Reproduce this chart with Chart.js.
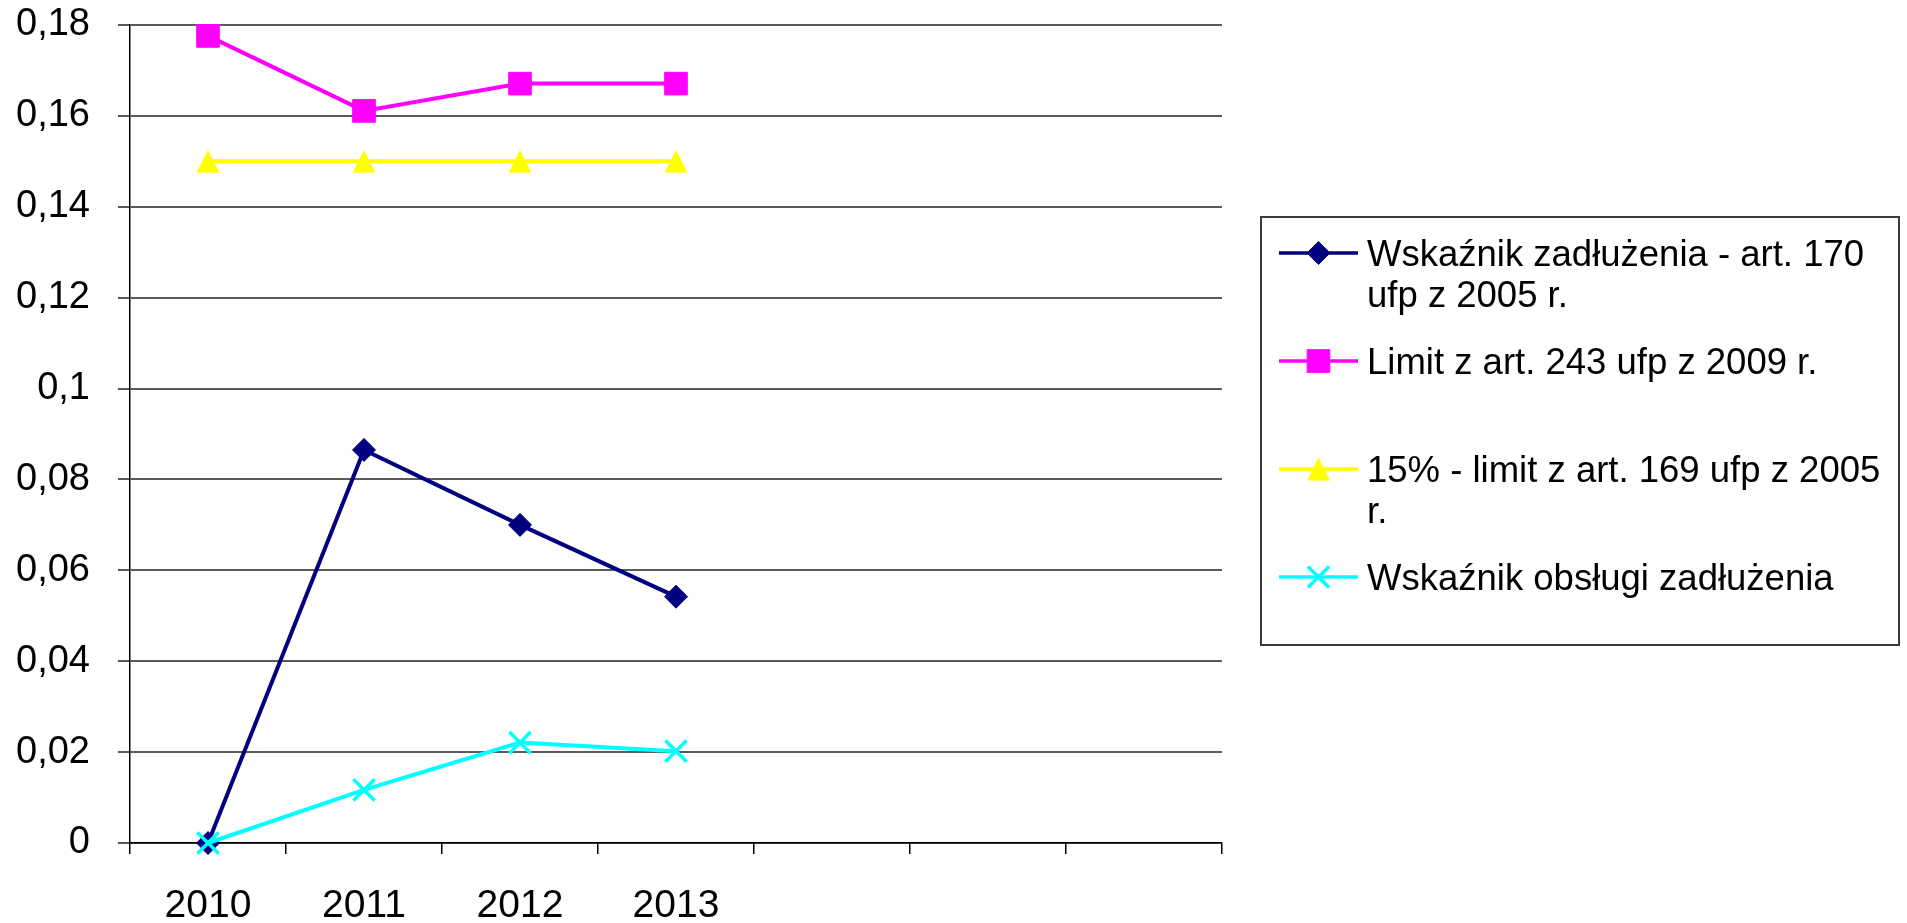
<!DOCTYPE html>
<html><head><meta charset="utf-8">
<script src="https://cdn.jsdelivr.net/npm/chart.js@4.4.0/dist/chart.umd.min.js"></script>
<style>html,body{margin:0;padding:0;background:#fff;overflow:hidden}canvas{display:block}</style>
</head><body>
<canvas id="c" width="1907" height="923"></canvas>
<script>
// ---- data ----
const categories = ['2010', '2011', '2012', '2013', '', '', ''];
const seriesNames = [
  'Wskaźnik zadłużenia - art. 170 ufp z 2005 r.',
  'Limit z art. 243 ufp z 2009 r.',
  '15% - limit z art. 169 ufp z 2005 r.',
  'Wskaźnik obsługi zadłużenia'
];
const debtRatio        = [0, 0.0865, 0.0700, 0.0542];
const limit243         = [0.1776, 0.1611, 0.1671, 0.1671];
const limit169         = [0.15, 0.15, 0.15, 0.15];
const debtServiceRatio = [0, 0.0117, 0.0221, 0.0202];
const yMin = 0, yMax = 0.18, yStep = 0.02;

const FONT = '"Liberation Sans", Arial, Helvetica, sans-serif';

// triangle marker (Excel style: isoceles, centred on the value)
const tri = document.createElement('canvas');
tri.width = 24; tri.height = 24;
(function () {
  const c = tri.getContext('2d');
  c.fillStyle = '#FFFF00';
  c.beginPath(); c.moveTo(12, 0.5); c.lineTo(23.5, 23.5); c.lineTo(0.5, 23.5); c.closePath(); c.fill();
})();

function fallbackPoint(ctx, style, r, x, y) {
  if (style instanceof HTMLCanvasElement) { ctx.drawImage(style, x - style.width / 2, y - style.height / 2); return; }
  ctx.beginPath();
  if (style === 'rectRot') { ctx.moveTo(x, y - r); ctx.lineTo(x + r, y); ctx.lineTo(x, y + r); ctx.lineTo(x - r, y); ctx.closePath(); ctx.fill(); ctx.stroke(); }
  else if (style === 'rect') { const s = r * Math.SQRT1_2; ctx.rect(x - s, y - s, 2 * s, 2 * s); ctx.fill(); ctx.stroke(); }
  else { const s = r * Math.SQRT1_2; ctx.moveTo(x - s, y - s); ctx.lineTo(x + s, y + s); ctx.moveTo(x + s, y - s); ctx.lineTo(x - s, y + s); ctx.stroke(); }
}

const legendPlugin = {
  id: 'boxLegend',
  afterDraw(chart) {
    const ctx = chart.ctx;
    ctx.save();
    const L = 1261, T = 217, R = 1899, B = 645;
    ctx.strokeStyle = '#3a3a3a'; ctx.lineWidth = 2;
    ctx.strokeRect(L, T, R - L, B - T);
    const textX = 1367, maxW = 525, lineH = 41;
    chart.data.datasets.forEach((ds, i) => {
      const cy = 253 + i * 108;
      ctx.strokeStyle = ds.borderColor; ctx.lineWidth = 3.5;
      ctx.beginPath(); ctx.moveTo(1279, cy); ctx.lineTo(1358, cy); ctx.stroke();
      ctx.fillStyle = ds.pointBackgroundColor; ctx.strokeStyle = ds.pointBorderColor; ctx.lineWidth = ds.pointBorderWidth;
      if (Chart.helpers && Chart.helpers.drawPoint) {
        Chart.helpers.drawPoint(ctx, {pointStyle: ds.pointStyle, radius: ds.pointRadius, borderWidth: ds.pointBorderWidth, rotation: 0}, 1318.5, cy);
      } else {
        fallbackPoint(ctx, ds.pointStyle, ds.pointRadius, 1318.5, cy);
      }
      ctx.font = '36.5px ' + FONT;
      ctx.fillStyle = '#000'; ctx.textAlign = 'left'; ctx.textBaseline = 'alphabetic';
      const words = ds.label.split(' ');
      const lines = []; let cur = '';
      words.forEach(w => {
        const t = cur ? cur + ' ' + w : w;
        if (ctx.measureText(t).width > maxW && cur) { lines.push(cur); cur = w; } else cur = t;
      });
      if (cur) lines.push(cur);
      lines.forEach((ln, k) => ctx.fillText(ln, textX, cy + 13 + k * lineH));
    });
    ctx.restore();
  }
};

const styles = [
  {color: '#000080', point: 'rectRot', r: 11.5, pbw: 1, order: 4},
  {color: '#FF00FF', point: 'rect', r: 16, pbw: 1, order: 3},
  {color: '#FFFF00', point: tri, r: 12, pbw: 0, order: 2},
  {color: '#00FFFF', point: 'crossRot', r: 15, pbw: 3.5, order: 1}
];
const seriesData = [debtRatio, limit243, limit169, debtServiceRatio];

const datasets = seriesData.map((d, i) => ({
  label: seriesNames[i],
  data: d,
  borderColor: styles[i].color,
  backgroundColor: styles[i].color,
  borderWidth: 4,
  pointStyle: styles[i].point,
  pointRadius: styles[i].r,
  pointHoverRadius: styles[i].r,
  pointBackgroundColor: styles[i].color,
  pointBorderColor: styles[i].color,
  pointBorderWidth: styles[i].pbw,
  tension: 0,
  fill: false,
  clip: false,
  order: styles[i].order
}));

new Chart(document.getElementById('c'), {
  type: 'line',
  data: {labels: categories, datasets},
  plugins: [legendPlugin],
  options: {
    responsive: false,
    animation: false,
    devicePixelRatio: 1,
    layout: {padding: {left: 0, top: 25, right: 685, bottom: 0}},
    plugins: {legend: {display: false}, tooltip: {enabled: false}},
    scales: {
      x: {
        type: 'category',
        offset: true,
        grid: {display: true, drawOnChartArea: false, drawTicks: true, tickLength: 11, color: '#000', lineWidth: 1.5, offset: true},
        border: {display: true, color: '#000', width: 1.5},
        ticks: {color: '#000', font: {family: FONT, size: 39}, padding: 29, autoSkip: false, maxRotation: 0, minRotation: 0},
        afterFit(s) { s.height = 80; s.paddingLeft = 0; s.paddingRight = 0; }
      },
      y: {
        min: yMin, max: yMax,
        grid: {color: '#5a5a5a', lineWidth: 2, drawTicks: true, tickLength: 12},
        border: {display: true, color: '#000', width: 1.5},
        ticks: {
          stepSize: yStep, color: '#000', font: {family: FONT, size: 38}, padding: 28,
          callback: v => String(Math.round(v * 100) / 100).replace('.', ',')
        },
        afterFit(s) { s.width = 130; s.paddingTop = 0; s.paddingBottom = 0; }
      }
    }
  }
});
</script>
</body></html>
